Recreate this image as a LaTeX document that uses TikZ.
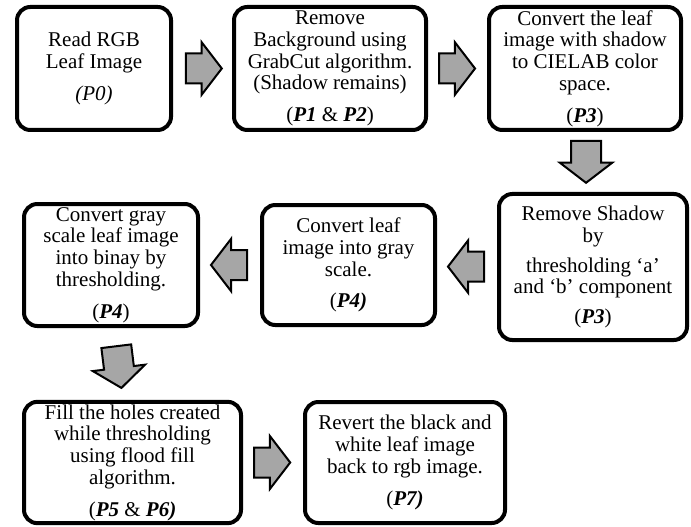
\documentclass[tikz,border=0pt]{standalone}
\usepackage{fontspec}
\setmainfont{Liberation Serif}
\usetikzlibrary{shapes.arrows,calc}
\definecolor{arrowgray}{HTML}{A6A6A6}

\tikzset{
  stepbox/.style={draw=black, line width=3pt, rounded corners=10pt, align=center,
    inner sep=2pt, font=\fontsize{15.75}{16.3}\selectfont},
  blockarrow/.style={single arrow, draw=black, line width=1.5pt, fill=arrowgray,
    inner xsep=0pt, inner ysep=10.5pt, single arrow head extend=8.5pt,
    single arrow tip angle=105, minimum height=27pt, anchor=tail},
}

\begin{document}
\begin{tikzpicture}[x=0.75pt,y=-0.75pt]
                \useasboundingbox (0,0) rectangle (691,527);

                \node[stepbox, minimum width=115.5pt, minimum height=92.25pt] (read) at (94,68.5)
                    {Read RGB\\ Leaf Image\\[7.5pt] \textit{(P0)}};
                \node[stepbox, minimum width=144pt, minimum height=92.25pt] (grabcut) at (330,68.5)
                    {Remove\\ Background using\\ GrabCut algorithm.\\ (Shadow remains)\\[7.5pt] (\textbf{\textit{P1}} \& \textbf{\textit{P2}})};
                \node[stepbox, minimum width=144pt, minimum height=92.25pt] (cielab) at (585,68.5)
                    {Convert the leaf\\ image with shadow\\ to CIELAB color\\ space.\\[7.5pt] (\textbf{\textit{P3}})};

                \node[stepbox, minimum width=141pt, minimum height=109.5pt] (shadow) at (593,267)
                    {Remove Shadow\\ by\\[6pt] thresholding `a'\\ and `b' component\\[6pt] (\textbf{\textit{P3}})};
                \node[stepbox, minimum width=129.75pt, minimum height=90pt] (gray) at (348.5,265)
                    {Convert leaf\\ image into gray\\ scale.\\[7.5pt] (\textbf{\textit{P4)}}};
                \node[stepbox, minimum width=130.5pt, minimum height=91.5pt] (binary) at (111,265)
                    {Convert gray\\ scale leaf image\\ into binay by\\ thresholding.\\[7.5pt] (\textbf{\textit{P4}})};

                \node[stepbox, minimum width=162.75pt, minimum height=90.75pt] (flood) at (132.5,462.5)
                    {Fill the holes created\\ while thresholding\\ using flood fill\\ algorithm.\\[7.5pt] (\textbf{\textit{P5}} \& \textbf{\textit{P6)}}};
                \node[stepbox, minimum width=150pt, minimum height=90.75pt] (revert) at (405,462.5)
                    {Revert the black and\\ white leaf image\\ back to rgb image.\\[7.5pt] (\textbf{\textit{P7)}}};

                \node[blockarrow] (arr1) at ($(read.east)!0.2!(grabcut.west)$) {};
                \node[blockarrow] (arr2) at ($(grabcut.east)!0.17!(cielab.west)$) {};
                \node[blockarrow, rotate=-90, minimum height=31.5pt] (arr3) at ($(cielab.south)!0.13!(shadow.north)$) {};
                \node[blockarrow, rotate=180] (arr4) at ($(shadow.west)!0.2!(gray.east)$) {};
                \node[blockarrow, rotate=180] (arr5) at ($(gray.west)!0.2!(binary.east)$) {};
                \node[blockarrow, rotate=-83, minimum height=31.5pt] (arr6) at ($(binary.south)!0.24!(flood.north)$) {};
                \node[blockarrow] (arr7) at ($(flood.east)!0.17!(revert.west)$) {};
            \end{tikzpicture}
\end{document}
